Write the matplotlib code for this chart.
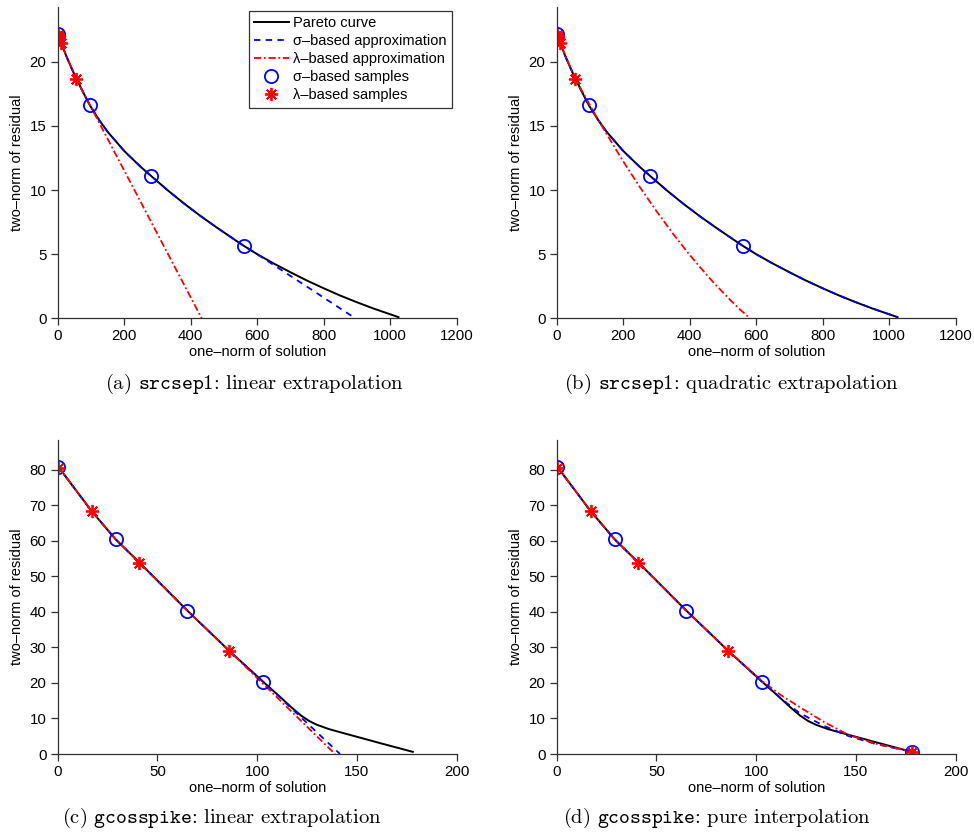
import matplotlib
matplotlib.use("Agg")
import matplotlib.pyplot as plt

plt.rcParams['font.family'] = ['Liberation Sans', 'DejaVu Sans']
plt.rcParams['mathtext.fontset'] = 'cm'

# ---- srcsep1 (panels a, b) ----
src_pareto_x = [0, 10, 25, 40, 55, 75, 97, 125, 150, 200, 250, 281, 330, 380, 430, 480, 530, 561,
                600, 650, 700, 750, 800, 850, 900, 950, 1025]
src_pareto_y = [22.2, 21.5, 20.5, 19.6, 18.75, 17.7, 16.6, 15.45, 14.55, 13.05, 11.8, 11.1, 10.0, 8.95,
                7.97, 7.05, 6.17, 5.63, 5.0, 4.27, 3.59, 2.94, 2.34, 1.77, 1.25, 0.76, 0.09]

src_sig_lin_x = [0, 10, 25, 40, 55, 75, 97, 125, 150, 200, 250, 281, 330, 380, 430, 480, 530, 561,
                 600, 650, 750, 895]
src_sig_lin_y = [22.2, 21.5, 20.5, 19.6, 18.75, 17.7, 16.6, 15.45, 14.55, 13.05, 11.8, 11.1, 10.0, 8.95,
                 7.97, 7.05, 6.17, 5.63, 5.0, 4.15, 2.46, 0.0]

src_lam_lin_x = [0, 3, 10, 55, 433]
src_lam_lin_y = [22.2, 22.0, 21.5, 18.7, 0.0]

src_lam_quad_x = [0, 3, 10, 55, 125, 195, 250, 300, 350, 391, 430, 471, 520, 550, 581]
src_lam_quad_y = [22.2, 22.0, 21.5, 18.7, 15.46, 12.44, 10.24, 8.36, 6.59, 5.23, 4.02, 2.81, 1.48, 0.72, 0.0]

src_sig_samp_x = [0, 97, 281, 561]
src_sig_samp_y = [22.2, 16.6, 11.1, 5.6]
src_lam_samp_x = [0, 3, 10, 55]
src_lam_samp_y = [22.1, 21.9, 21.5, 18.7]

# ---- gcosspike (panels c, d) ----
gcs_pareto_x = [0, 17, 29, 41, 65, 86, 103, 111, 117, 122, 126, 130, 136, 145, 162, 178]
gcs_pareto_y = [81, 68.3, 60.4, 53.8, 40.3, 29.0, 20.3, 16.3, 13.2, 10.8, 9.3, 8.2, 7.0, 5.6, 3.0, 0.6]

gcs_sig_lin_x = [0, 17, 29, 41, 65, 86, 103, 141.5]
gcs_sig_lin_y = [81, 68.3, 60.4, 53.8, 40.3, 29.0, 20.3, 0.0]
gcs_lam_lin_x = [0, 17, 29, 41, 65, 86, 139]
gcs_lam_lin_y = [81, 68.3, 60.4, 53.8, 40.3, 29.0, 0.0]

gcs_sig_int_x = [0, 17, 29, 41, 65, 86, 103, 112, 121.5, 134, 146.5, 160, 178]
gcs_sig_int_y = [81, 68.3, 60.4, 53.8, 40.3, 29.0, 20.3, 15.8, 11.6, 7.9, 5.0, 2.8, 0.6]
gcs_lam_int_x = [0, 17, 29, 41, 65, 86, 103, 112, 121.5, 134, 146.5, 160, 178]
gcs_lam_int_y = [81, 68.3, 60.4, 53.8, 40.3, 29.0, 20.5, 16.7, 13.3, 9.0, 5.3, 2.9, 0.6]

gcs_sig_samp_x = [0, 29, 65, 103]
gcs_sig_samp_y = [80.8, 60.4, 40.3, 20.3]
gcs_lam_samp_x = [0, 17, 41, 86]
gcs_lam_samp_y = [80.5, 68.3, 53.8, 29.0]
gcs_end_x = [178]
gcs_end_y = [0.6]

legend_labels = ["Pareto curve", "\u03c3\u2013based approximation", "\u03bb\u2013based approximation",
                 "\u03c3\u2013based samples", "\u03bb\u2013based samples"]

W, H = 974, 834
fig = plt.figure(figsize=(W / 100, H / 100), dpi=100)


def make_ax(left, top, right, bottom):
    return fig.add_axes([left / W, 1 - bottom / H, (right - left) / W, (bottom - top) / H])


def style(ax, xlim, ylim, xticks, yticks):
    ax.set_xlim(*xlim)
    ax.set_ylim(*ylim)
    ax.set_xticks(xticks)
    ax.set_yticks(yticks)
    ax.spines['top'].set_visible(False)
    ax.spines['right'].set_visible(False)
    for s in ('left', 'bottom'):
        ax.spines[s].set_color('#303030')
        ax.spines[s].set_linewidth(0.9)
    ax.tick_params(direction='out', length=5, width=0.9, color='#303030', labelsize=10.8, pad=3)
    ax.set_xlabel("one\u2013norm of solution", fontsize=10.5, labelpad=1)
    ax.set_ylabel("two\u2013norm of residual", fontsize=10.5, labelpad=4)


def draw(ax, px, py, sx, sy, lx, ly, ssx, ssy, lsx, lsy):
    h1, = ax.plot(px, py, color='k', lw=1.4)
    h2, = ax.plot(sx, sy, color='b', lw=1.3, ls=(0, (3.5, 3)))
    h3, = ax.plot(lx, ly, color='r', lw=1.3, ls=(0, (4, 1.5, 1, 1.5)))
    h4, = ax.plot(ssx, ssy, ls='none', marker='o', ms=9.5, mfc='none', mec='b', mew=1.3)
    h5, = ax.plot(lsx, lsy, ls='none', marker=(8, 2, 0), ms=9.5, mec='r', mew=1.3)
    return [h1, h2, h3, h4, h5]


ax_a = make_ax(57.7, 6.7, 456.7, 318.3)
hs = draw(ax_a, src_pareto_x, src_pareto_y, src_sig_lin_x, src_sig_lin_y, src_lam_lin_x, src_lam_lin_y,
          src_sig_samp_x, src_sig_samp_y, src_lam_samp_x, src_lam_samp_y)
style(ax_a, (0, 1200), (0, 24.3), range(0, 1201, 200), range(0, 21, 5))
leg = ax_a.legend(hs, legend_labels, loc='upper right', bbox_to_anchor=(451.7 / W, 1 - 11 / H),
                  bbox_transform=fig.transFigure, fontsize=10.5, frameon=True, fancybox=False,
                  edgecolor='k', handlelength=2.4, handletextpad=0.3, borderpad=0.35,
                  labelspacing=0.28, borderaxespad=0)
leg.get_frame().set_linewidth(0.9)

ax_b = make_ax(556.7, 6.7, 955.7, 318.3)
draw(ax_b, src_pareto_x, src_pareto_y, src_pareto_x, src_pareto_y, src_lam_quad_x, src_lam_quad_y,
     src_sig_samp_x, src_sig_samp_y, src_lam_samp_x, src_lam_samp_y)
style(ax_b, (0, 1200), (0, 24.3), range(0, 1201, 200), range(0, 21, 5))

ax_c = make_ax(57.7, 440, 456.7, 754)
draw(ax_c, gcs_pareto_x, gcs_pareto_y, gcs_sig_lin_x, gcs_sig_lin_y, gcs_lam_lin_x, gcs_lam_lin_y,
     gcs_sig_samp_x, gcs_sig_samp_y, gcs_lam_samp_x, gcs_lam_samp_y)
style(ax_c, (0, 200), (0, 88.3), range(0, 201, 50), range(0, 81, 10))

ax_d = make_ax(556.7, 440, 955.7, 754)
draw(ax_d, gcs_pareto_x, gcs_pareto_y, gcs_sig_int_x, gcs_sig_int_y, gcs_lam_int_x, gcs_lam_int_y,
     gcs_sig_samp_x + gcs_end_x, gcs_sig_samp_y + gcs_end_y,
     gcs_lam_samp_x + gcs_end_x, gcs_lam_samp_y + gcs_end_y)
style(ax_d, (0, 200), (0, 88.3), range(0, 201, 50), range(0, 81, 10))

captions = [
    (254, 384, r"(a) $\mathtt{srcsep1}$: linear extrapolation"),
    (731, 384, r"(b) $\mathtt{srcsep1}$: quadratic extrapolation"),
    (222, 818, r"(c) $\mathtt{gcosspike}$: linear extrapolation"),
    (717, 818, r"(d) $\mathtt{gcosspike}$: pure interpolation"),
]
for cx, cy, txt in captions:
    fig.text(cx / W, 1 - cy / H, txt, ha='center', va='center', fontsize=14.8, family='cmr10')

fig.savefig("out.png", dpi=100)
